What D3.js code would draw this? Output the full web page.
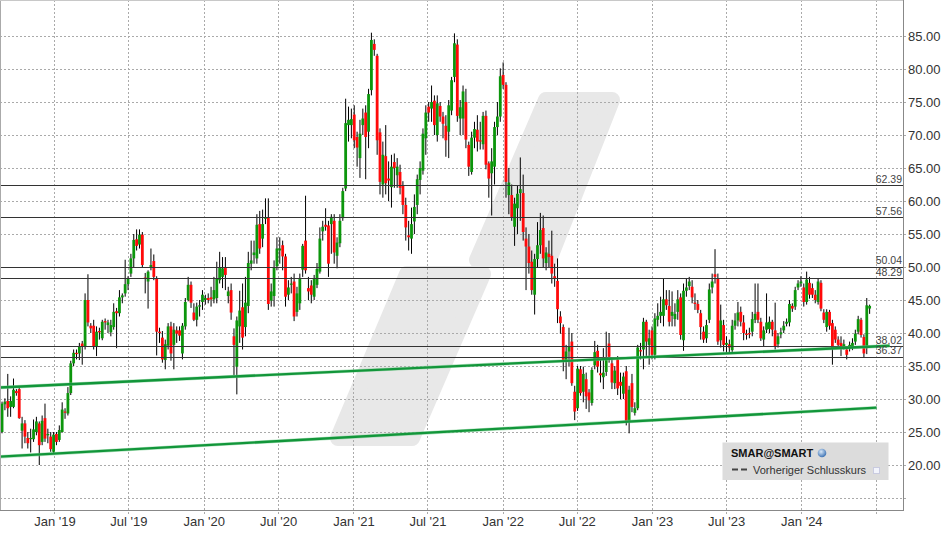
<!DOCTYPE html>
<html><head><meta charset="utf-8">
<script src="https://cdn.jsdelivr.net/npm/d3@7"></script>
<style>
body{margin:0;background:#fff;}
svg{display:block;font-family:"Liberation Sans",Arial,Helvetica,sans-serif;}
</style>
</head><body>
<svg id="c" width="949" height="538"></svg>
<script>
// ---------- DATA ----------
const symbol = "SMAR@SMART";
const legendLabel = "Vorheriger Schlusskurs";
const firstWeek = "2018-08-26";   // weekly candles
const opens = [
25.0,29.2,29.7,28.8,28.8,31.2,31.5,25.2,26.3,24.1,
24.0,23.9,25.0,26.3,23.5,27.1,24.5,24.3,22.0,24.7,
23.8,25.0,28.1,27.8,30.9,35.4,37.0,36.9,38.4,37.9,
45.0,41.1,41.1,38.0,40.3,39.2,41.8,41.2,40.1,40.9,
43.3,43.0,45.4,46.0,47.4,49.0,51.3,54.2,53.4,54.9,
48.4,47.8,50.0,50.9,48.3,40.2,39.3,35.9,38.1,41.0,
38.2,40.4,40.4,36.9,41.0,45.0,47.3,43.1,42.0,44.0,
44.7,45.0,45.3,45.4,45.1,45.3,48.0,48.5,50.0,45.6,
46.5,39.5,34.9,41.0,43.9,40.9,44.1,50.5,51.8,51.3,
56.5,54.3,57.3,57.5,44.9,45.6,50.1,52.5,53.3,51.6,
45.8,47.3,47.8,43.2,44.5,49.6,54.0,46.8,47.2,45.5,
47.3,49.3,55.4,56.4,56.3,56.5,57.0,51.7,53.6,57.4,
61.9,71.5,71.5,73.1,69.7,66.5,71.5,73.4,70.5,76.8,
83.8,82.0,70.4,62.5,66.8,63.4,62.1,65.9,63.9,64.4,
62.3,59.4,54.8,54.3,56.9,59.4,63.2,64.6,69.5,74.3,
74.0,75.2,70.0,74.4,72.8,71.4,70.5,73.7,78.8,83.7,
72.5,72.5,75.0,68.5,64.4,69.6,70.8,69.2,68.6,72.9,
65.7,64.2,65.2,71.2,72.8,79.1,77.6,60.9,60.9,56.1,
58.9,61.2,61.2,54.3,53.1,50.8,45.8,51.2,53.3,55.9,
50.6,52.0,51.7,48.6,47.9,42.5,40.9,35.9,37.2,38.7,
31.1,28.6,34.5,31.1,33.0,31.0,29.4,35.1,37.3,33.9,
33.3,34.1,38.4,35.4,32.4,36.0,32.6,30.8,34.2,26.6,
32.4,27.9,28.6,37.4,37.5,41.7,38.2,40.4,36.7,42.0,
42.6,42.6,45.1,44.1,42.6,42.1,43.2,45.4,38.9,46.4,
47.1,47.0,44.6,44.4,43.0,40.2,39.2,42.0,46.9,48.9,
48.3,38.9,41.2,38.2,38.3,
37.4,41.1,41.9,43.2,41.6,39.9,40.0,40.2,42.0,43.2,
41.7,39.0,40.5,40.6,41.7,40.4,38.3,39.8,40.4,41.4,
41.6,44.1,44.0,46.9,47.5,46.9,44.7,47.6,46.8,45.8,
44.7,47.6,43.1,40.9,43.2,41.5,40.5,39.0,38.5,38.0,
37.5,37.7,37.8,38.7,40.2,42.0,39.4,37.7,43.7];
const highs = [
29.6,30.1,33.8,30.4,33.1,31.5,31.8,27.3,26.8,25.0,
25.5,26.9,27.3,26.6,27.5,29.3,25.5,25.0,25.0,25.0,
26.0,29.5,28.6,31.8,35.8,37.5,37.5,38.5,38.8,46.0,
48.9,41.5,42.0,41.0,40.8,42.0,42.2,42.0,42.0,44.5,
43.8,46.5,46.0,51.1,48.6,52.0,55.0,55.7,55.7,55.3,
49.1,49.5,52.8,51.9,48.6,40.8,40.3,39.0,41.5,41.7,
41.5,41.0,41.0,41.5,45.3,48.5,47.8,44.5,44.6,45.0,
46.5,45.8,46.0,47.0,48.5,50.8,52.3,51.5,51.5,47.0,
47.5,40.7,42.5,46.4,47.5,48.5,52.3,54.0,54.0,58.0,
58.5,58.7,60.4,60.4,47.5,51.0,54.5,54.5,54.0,52.0,
48.0,48.5,49.0,47.0,49.0,53.5,60.8,48.5,48.0,48.8,
50.6,56.0,57.0,58.9,57.0,58.0,58.0,54.5,58.0,62.0,
75.5,74.3,74.0,74.5,70.5,72.3,74.0,74.5,77.0,85.5,
84.5,82.3,71.0,69.0,71.5,66.0,67.0,67.2,66.5,65.5,
63.0,60.5,57.0,59.0,61.0,64.0,66.0,71.0,74.5,75.0,
77.5,76.0,76.0,75.0,73.5,73.0,75.3,78.8,85.4,84.5,
75.3,77.5,77.0,69.0,70.5,72.0,73.0,72.0,73.5,73.7,
66.0,68.0,72.0,75.0,80.1,81.0,78.0,65.0,62.5,60.5,
62.3,66.6,64.0,56.0,55.0,52.5,52.0,56.8,58.2,57.8,
53.0,54.0,55.5,50.5,51.3,43.3,41.3,38.2,40.8,40.0,
32.0,35.0,35.0,34.9,34.0,31.5,34.8,38.8,38.2,36.0,
37.7,40.2,40.0,36.0,35.0,36.5,34.0,34.0,35.0,32.0,
33.8,29.5,38.2,38.5,42.3,42.0,40.5,41.0,43.0,44.5,
45.5,48.3,46.5,46.5,46.3,44.5,46.5,46.0,47.5,48.3,
48.5,48.0,46.0,45.0,43.5,41.0,42.0,47.5,49.0,52.7,
49.0,44.3,42.0,39.5,39.0,
42.0,43.0,44.7,44.0,42.7,40.5,40.8,43.2,47.5,47.5,
42.3,41.0,46.0,42.5,42.0,44.6,40.0,40.8,41.8,42.2,
45.0,44.5,47.0,48.0,48.6,47.5,49.3,48.5,47.5,46.5,
48.3,48.0,43.6,43.6,43.5,42.0,41.0,39.5,39.5,39.0,
38.0,38.7,39.2,40.5,42.6,42.3,39.8,45.3,44.3];
const lows = [
24.8,28.3,27.3,27.3,28.6,30.5,27.0,22.5,23.3,22.5,
21.9,23.5,24.5,20.0,23.0,23.5,23.3,22.0,21.8,23.0,
23.5,24.9,27.0,27.5,30.6,35.0,36.0,35.9,35.2,37.5,
41.0,40.0,37.5,36.5,39.0,38.9,40.5,40.0,39.5,40.5,
37.7,42.5,44.5,45.5,46.5,48.5,50.0,52.5,52.8,50.0,
46.0,43.7,49.5,48.0,36.6,38.5,35.5,34.5,37.5,35.8,
34.5,38.5,38.8,36.0,40.5,44.8,43.8,41.8,41.0,42.5,
43.5,44.3,44.5,44.0,44.5,44.5,47.5,46.8,46.5,44.5,
42.0,33.6,30.7,38.5,37.5,39.5,43.0,49.5,50.5,50.5,
52.0,53.0,56.5,43.5,44.0,44.0,49.5,50.5,49.5,44.0,
45.0,46.0,41.8,42.5,43.5,48.5,49.0,45.0,44.5,45.0,
46.8,49.0,54.0,55.5,48.5,52.0,50.5,49.8,53.0,57.0,
61.5,69.0,69.5,68.0,65.2,63.5,70.0,63.3,68.0,76.0,
82.0,67.0,61.0,60.5,61.0,60.0,59.0,62.0,62.0,61.0,
58.0,54.0,52.5,52.0,55.0,58.0,61.0,64.0,67.0,72.0,
72.0,70.0,69.0,72.0,69.5,66.7,66.5,73.0,78.0,72.0,
70.0,70.0,68.0,63.8,64.0,68.0,67.5,67.8,67.8,64.8,
60.5,57.8,62.5,70.0,72.0,77.0,60.5,58.0,57.0,53.2,
55.0,57.0,54.0,46.5,49.0,45.8,42.8,50.0,52.0,50.0,
49.5,50.0,47.5,47.0,41.5,39.9,34.2,33.0,35.0,32.0,
26.8,28.2,30.5,29.5,28.5,28.0,29.0,34.5,34.0,32.5,
31.5,33.5,35.5,31.5,31.5,30.6,30.0,30.0,26.0,24.8,
28.0,27.5,28.3,36.0,34.5,36.5,35.2,36.0,36.0,41.0,
41.5,41.0,43.5,41.0,41.0,41.0,42.0,39.0,37.3,45.5,
46.5,44.5,43.5,43.0,39.0,38.5,38.5,41.5,46.0,47.5,
38.2,37.8,37.2,37.0,37.0,
37.0,40.5,41.0,41.0,38.9,39.0,39.2,39.5,41.5,41.5,
38.8,38.0,40.0,40.0,39.5,37.5,37.8,39.2,40.0,41.0,
41.0,43.2,43.5,46.5,47.0,44.0,44.3,45.2,45.3,44.5,
44.3,43.3,41.5,40.2,40.5,35.2,38.5,37.8,36.5,37.5,
36.0,37.2,37.4,38.2,39.8,39.3,36.3,36.8,42.9];
const closes = [
29.3,29.6,28.6,29.7,31.4,30.9,27.1,26.3,24.3,23.3,
24.1,25.4,26.6,23.0,26.7,24.0,24.7,22.4,24.6,23.5,
25.3,28.4,28.0,30.9,35.4,37.0,36.8,37.9,37.9,45.0,
41.6,40.7,37.9,40.2,40.1,41.7,41.6,41.6,41.2,43.2,
43.0,45.4,45.7,47.4,48.3,51.3,54.1,53.2,54.9,50.3,
48.3,49.3,50.3,48.5,40.2,40.0,36.0,38.3,41.0,36.9,
40.5,39.9,39.6,41.1,44.7,47.3,44.6,42.0,44.0,44.2,
45.8,45.3,45.0,45.1,46.5,48.3,50.0,49.8,48.8,46.3,
43.1,38.2,41.9,43.4,39.3,44.6,50.6,51.0,52.2,56.4,
52.8,56.5,57.5,44.4,46.3,49.9,52.8,52.8,51.6,45.5,
46.9,47.5,42.5,46.0,48.3,53.2,49.5,46.3,45.8,48.3,
49.7,54.3,56.1,56.1,50.5,57.6,52.2,53.7,57.0,61.5,
71.8,72.3,72.4,69.2,68.1,70.2,72.5,69.7,76.2,84.4,
82.9,69.2,62.9,67.0,62.7,63.1,65.2,65.0,65.2,62.0,
59.4,56.0,54.5,56.5,59.1,63.3,65.0,70.2,73.4,73.4,
75.0,71.5,74.8,72.8,71.7,69.2,74.5,78.3,83.9,72.9,
74.2,76.6,69.3,65.2,69.6,70.9,69.0,69.0,72.9,65.5,
63.4,66.0,71.2,72.8,78.9,77.6,62.9,62.8,57.6,59.6,
61.1,61.8,55.3,53.1,50.6,46.5,51.2,53.3,55.6,51.3,
52.2,51.5,49.0,48.3,43.6,41.5,35.9,37.2,37.9,32.4,
28.1,34.6,30.9,33.8,30.4,29.8,34.4,37.1,34.9,33.6,
34.0,36.2,36.4,32.5,34.3,31.6,32.0,33.4,26.6,31.4,
28.8,28.6,37.8,37.2,41.7,38.7,39.2,36.7,42.2,42.6,
43.2,45.1,44.2,41.7,43.2,42.9,45.1,39.7,46.4,46.9,
47.8,45.4,44.4,43.5,40.9,39.0,41.2,46.6,47.8,48.5,
38.7,41.9,38.2,38.5,37.8,
41.1,41.9,43.1,41.7,40.0,39.7,39.8,42.1,42.9,42.0,
39.2,40.4,41.6,41.7,40.5,38.0,39.5,40.1,41.1,41.7,
44.4,43.7,46.5,47.5,47.8,44.7,48.1,45.8,45.8,45.0,
47.8,43.7,42.0,43.2,41.1,37.7,39.0,38.2,38.0,38.3,
36.7,38.2,38.5,39.9,42.1,39.7,36.9,44.2,44.1];

const yGridValues = [15,20,25,30,35,40,45,50,55,60,65,70,75,80,85];
const yLabelValues = [20,25,30,35,40,45,50,55,60,65,70,75,80,85];
const xTickDates = ["2019-01-01","2019-07-01","2020-01-01","2020-07-01","2021-01-01","2021-07-01",
                    "2022-01-01","2022-07-01","2023-01-01","2023-07-01","2024-01-01","2024-07-01"];
const xTickLabels = ["Jan '19","Jul '19","Jan '20","Jul '20","Jan '21","Jul '21",
                     "Jan '22","Jul '22","Jan '23","Jul '23","Jan '24",""];
const levels = [62.39,57.56,50.04,48.29,38.02,36.37];
const supportUpper = [["2018-08-21",31.74],["2024-08-04",38.07]];
const supportLower = [["2018-08-21",21.26],["2024-07-03",28.68]];

// ---------- CHART ----------
const W=949,H=538, PR=903.5, PB=510;
const parse = s => { const [a,b,c]=s.split("-").map(Number); return new Date(a,b-1,c); };
const x = d3.scaleTime().domain([parse("2018-08-21"), parse("2024-09-08")]).range([0,904]);
const y = d3.scaleLinear().domain([15,85]).range([498,36]);

const w0 = parse(firstWeek);
const candles = opens.map((o,i)=>({
  date: d3.timeDay.offset(w0, 7*i), o, h: Math.max(highs[i],o,closes[i]),
  l: Math.min(lows[i],o,closes[i]), c: closes[i]}));

const svg = d3.select("#c");
svg.append("rect").attr("width",W).attr("height",H).attr("fill","#fff");
const defs = svg.append("defs");
defs.append("clipPath").attr("id","plot").append("rect").attr("x",0).attr("y",0).attr("width",PR).attr("height",PB);

// watermark (decorative)
const wm = svg.append("g").attr("clip-path","url(#plot)")
  .attr("fill","#e8e8e8").attr("stroke","#e8e8e8").attr("stroke-width",16).attr("stroke-linejoin","round");
wm.append("polygon").attr("points","546,100 612,100 549,260 477,260");
wm.append("polygon").attr("points","407,274 483,274 412,438 338,438");

// gridlines
const grid = svg.append("g").attr("stroke","#aaa").attr("stroke-dasharray","2,2").attr("shape-rendering","crispEdges");
grid.selectAll(".hg").data(yGridValues).join("line")
  .attr("x1",0).attr("x2",908).attr("y1",d=>Math.round(y(d))+0.5).attr("y2",d=>Math.round(y(d))+0.5);
grid.selectAll(".vg").data(xTickDates).join("line")
  .attr("y1",0).attr("y2",514).attr("x1",d=>Math.round(x(parse(d)))+0.5).attr("x2",d=>Math.round(x(parse(d)))+0.5);

const plot = svg.append("g").attr("clip-path","url(#plot)");

// candles
plot.append("g").attr("stroke","#000").attr("stroke-width",1)
  .selectAll("line").data(candles).join("line")
  .attr("x1",d=>x(d.date)).attr("x2",d=>x(d.date))
  .attr("y1",d=>y(d.h)).attr("y2",d=>y(d.l));
plot.append("g").selectAll("rect").data(candles).join("rect")
  .attr("x",d=>x(d.date)-1.4).attr("width",2.8)
  .attr("y",d=>y(Math.max(d.o,d.c)))
  .attr("height",d=>Math.max(1.2, Math.abs(y(d.o)-y(d.c))))
  .attr("fill",d=>d.c>=d.o ? "#0c960c" : "#ff0a0a");

// horizontal levels
plot.append("g").attr("stroke","#333").attr("stroke-width",1).attr("shape-rendering","crispEdges")
  .selectAll("line").data(levels).join("line")
  .attr("x1",0).attr("x2",PR).attr("y1",d=>Math.round(y(d))+0.5).attr("y2",d=>Math.round(y(d))+0.5);

// support trend lines
const line = d3.line().x(d=>x(parse(d[0]))).y(d=>y(d[1]));
[supportUpper, supportLower].forEach(s=>{
  plot.append("path").attr("d",line(s)).attr("fill","none")
    .attr("stroke","#7fcf95").attr("stroke-width",3.4).attr("opacity",0.6);
  plot.append("path").attr("d",line(s)).attr("fill","none")
    .attr("stroke","#12963a").attr("stroke-width",2.3);
});

// level labels
svg.append("g").attr("font-size","10.5px").attr("fill","#444").attr("text-anchor","end")
  .selectAll("text").data(levels).join("text")
  .attr("x",902).attr("y",d=>y(d)-2.5).text(d=>d.toFixed(2));

// frame
const fr = svg.append("g").attr("shape-rendering","crispEdges").attr("fill","none");
fr.append("line").attr("x1",0.5).attr("x2",0.5).attr("y1",0).attr("y2",PB).attr("stroke","#aaa");
fr.append("line").attr("x1",0).attr("x2",PR).attr("y1",0.5).attr("y2",0.5).attr("stroke","#c8c8c8");
fr.append("line").attr("x1",PR).attr("x2",PR).attr("y1",0).attr("y2",PB+0.5).attr("stroke","#888");
fr.append("line").attr("x1",0).attr("x2",PR).attr("y1",PB+0.5).attr("y2",PB+0.5).attr("stroke","#888");

// axes (labels only)
const yAxis = d3.axisRight(y).tickValues(yLabelValues).tickFormat(d3.format(".2f")).tickSize(0).tickPadding(4.5);
const ga = svg.append("g").attr("transform",`translate(${PR},0)`).call(yAxis);
ga.select(".domain").remove();
ga.selectAll("text").attr("font-size","13px").attr("fill","#333").attr("font-family","Liberation Sans, Arial, sans-serif");

const xAxis = d3.axisBottom(x).tickValues(xTickDates.map(parse))
  .tickFormat((d,i)=>xTickLabels[i]).tickSize(0).tickPadding(7);
const gx = svg.append("g").attr("transform",`translate(0,${PB})`).call(xAxis);
gx.select(".domain").remove();
gx.selectAll("text").attr("font-size","13px").attr("fill","#333").attr("font-family","Liberation Sans, Arial, sans-serif");

// legend
const lg = svg.append("g");
lg.append("rect").attr("x",722.5).attr("y",442.5).attr("width",166).attr("height",37.5).attr("fill","#dcdcdc");
lg.append("text").attr("x",731).attr("y",457).attr("font-size","11px").attr("font-weight","bold").attr("fill","#111").text(symbol);
const gr = defs.append("radialGradient").attr("id","globe").attr("cx","40%").attr("cy","35%").attr("r","65%");
gr.append("stop").attr("offset","0%").attr("stop-color","#d8e8f8");
gr.append("stop").attr("offset","100%").attr("stop-color","#3f74b5");
lg.append("circle").attr("cx",822).attr("cy",453).attr("r",4.3).attr("fill","url(#globe)");
lg.append("line").attr("x1",732).attr("x2",749).attr("y1",469.5).attr("y2",469.5)
  .attr("stroke","#444").attr("stroke-width",2).attr("stroke-dasharray","6,3");
lg.append("text").attr("x",753).attr("y",474).attr("font-size","11px").attr("fill","#333").text(legendLabel);
lg.append("rect").attr("x",873.5).attr("y",467.5).attr("width",6).attr("height",6).attr("fill","#f2f4fc").attr("stroke","#c9cbe0");
</script>
</body></html>
